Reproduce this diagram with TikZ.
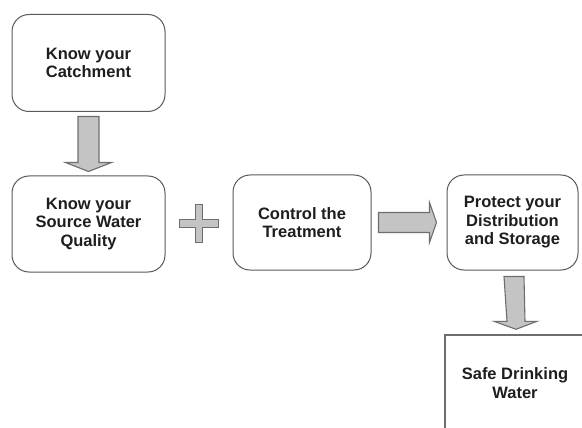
\documentclass[tikz,border=0pt]{standalone}
\usepackage{fontspec}
\setmainfont{Liberation Sans}
\usetikzlibrary{calc}
\definecolor{edgegray}{HTML}{5A5A5A}
\definecolor{arrowfill}{HTML}{C4C4C4}
\definecolor{arrowedge}{HTML}{6E6E6E}
\definecolor{textdark}{HTML}{1E1E1E}
\begin{document}
\begin{tikzpicture}[x=1pt,y=-1pt,
  stage/.style={draw=edgegray, line width=1pt, rounded corners=17pt, fill=white,
    align=center, text=textdark, inner sep=0pt,
    font=\fontsize{16.5}{18.5}\selectfont\bfseries},
  outcome/.style={draw=arrowedge, line width=1.4pt, fill=white,
    align=center, text=textdark, inner sep=0pt,
    font=\fontsize{16.5}{18.5}\selectfont\bfseries},
  blockarrow/.style={draw=arrowedge, line width=1.1pt, fill=arrowfill, line join=miter}]
\useasboundingbox (0,0) rectangle (582,428);
\fill[white] (0,0) rectangle (582,428);

% process stages
\node[stage, minimum width=153pt, minimum height=97pt] (catch) at (88.5,63) {Know your\\Catchment};
\node[stage, minimum width=153pt, minimum height=96pt] (source) at (88.5,224) {Know your\\Source Water\\Quality};
\node[stage, minimum width=138pt, minimum height=95pt] (treat) at (302,222.5) {Control the\\Treatment};
\node[stage, minimum width=131pt, minimum height=95pt] (dist) at (512.5,222.5) {Protect your\\Distribution\\and Storage};

% final outcome, running off the lower right corner
\begin{scope}
  \clip (0,0) rectangle (582,428);
  \node[outcome, minimum width=140pt, minimum height=96pt] (safe) at (515,383) {Safe Drinking\\Water};
\end{scope}

% catchment -> source water
\draw[blockarrow]
  ([shift={(-10.5,4.5)}]catch.south) -- ([shift={(10.5,4.5)}]catch.south)
  -- ([shift={(10.5,-13)}]source.north) -- ([shift={(23,-13)}]source.north)
  -- ([shift={(0,-4)}]source.north) -- ([shift={(-23,-13)}]source.north)
  -- ([shift={(-10.5,-13)}]source.north) -- cycle;

% plus sign between source water and treatment
\coordinate (plus) at ($(source.east)!0.5!(treat.west)$);
\draw[blockarrow]
  ([shift={(-3.8,-19)}]plus) -- ([shift={(3.8,-19)}]plus) -- ([shift={(3.8,-3.8)}]plus)
  -- ([shift={(19.5,-3.8)}]plus) -- ([shift={(19.5,3.8)}]plus) -- ([shift={(3.8,3.8)}]plus)
  -- ([shift={(3.8,19)}]plus) -- ([shift={(-3.8,19)}]plus) -- ([shift={(-3.8,3.8)}]plus)
  -- ([shift={(-19.5,3.8)}]plus) -- ([shift={(-19.5,-3.8)}]plus) -- ([shift={(-3.8,-3.8)}]plus) -- cycle;

% treatment -> distribution
\draw[blockarrow]
  ([shift={(7,-10)}]treat.east) -- ([shift={(-17,-10)}]dist.west)
  -- ([shift={(-17,-20)}]dist.west) -- ([shift={(-10,0)}]dist.west)
  -- ([shift={(-17,20)}]dist.west) -- ([shift={(-17,10)}]dist.west)
  -- ([shift={(7,10)}]treat.east) -- cycle;

% distribution -> safe drinking water
\draw[blockarrow]
  ([shift={(-8.5,6)}]dist.south) -- ([shift={(11.5,6)}]dist.south)
  -- ([shift={(10,-13)}]safe.north) -- ([shift={(22,-13)}]safe.north)
  -- ([shift={(1,-5)}]safe.north) -- ([shift={(-21,-13)}]safe.north)
  -- ([shift={(-8,-13)}]safe.north) -- cycle;
\end{tikzpicture}
\end{document}
